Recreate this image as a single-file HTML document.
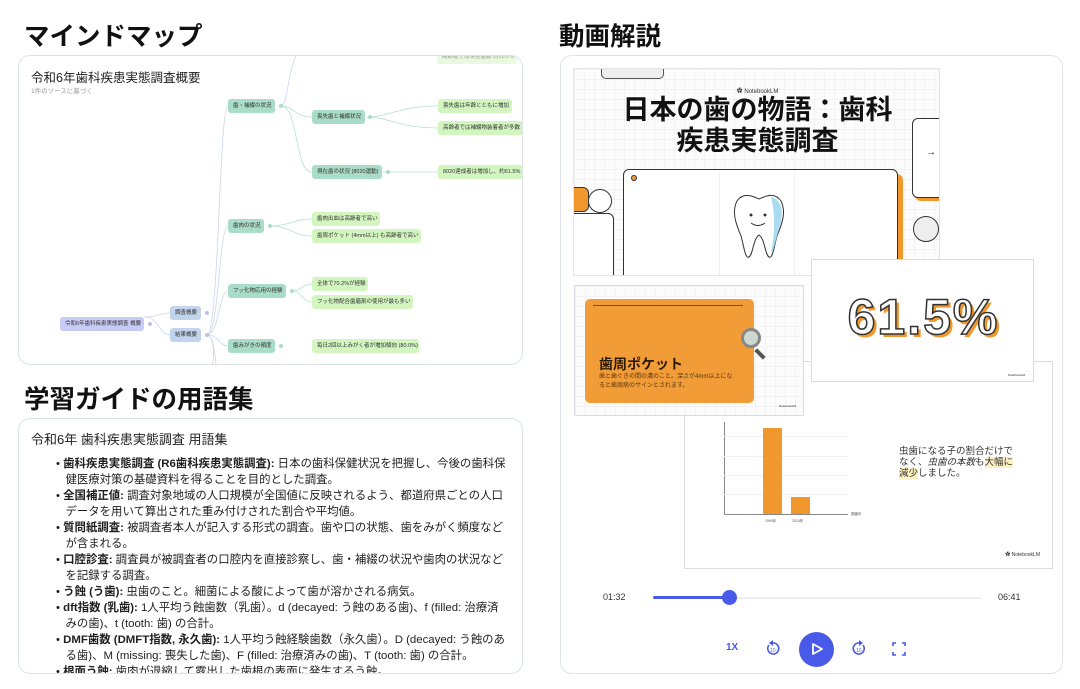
<!DOCTYPE html>
<html><head><meta charset="utf-8"><style>
*{margin:0;padding:0;box-sizing:border-box}
body{width:1080px;height:689px;background:#fff;position:relative;overflow:hidden;font-family:"Liberation Sans","Noto Sans CJK JP",sans-serif;color:#1f1f1f}
.a{position:absolute}
.h{font-size:25.5px;font-weight:bold;color:#111;white-space:nowrap}
.panel{position:absolute;border:1px solid #dde3ea;border-radius:12px;background:#fff;overflow:hidden}
.n{position:absolute;height:14px;border-radius:3px;font-size:5.5px;line-height:14px;padding-left:5px;white-space:nowrap;color:#333}
.b{background:#c2d5ec}.p{background:#c9cbf7}.t{background:#a9dcc9}.g{background:#d3f5c0}
.gl{font-size:11.4px;line-height:16px;white-space:nowrap;color:#1f1f1f}
.gl b{font-weight:bold}
.grid{background-color:#fcfcfc;background-image:linear-gradient(#f2f2f2 1px,transparent 1px),linear-gradient(90deg,#f2f2f2 1px,transparent 1px);background-size:10px 10px}
</style></head><body>

<div class="a h" style="left:24px;top:16px">マインドマップ</div>
<div class="a h" style="left:559px;top:16px">動画解説</div>
<div class="a h" style="left:24px;top:379px">学習ガイドの用語集</div>

<!-- mind map -->
<div class="panel" style="left:18px;top:55px;width:505px;height:310px">
<svg class="a" style="left:0;top:0" width="505" height="310" fill="none" stroke-width="0.8">
<g stroke="#c9d6ea">
<path d="M125 261 C140 261,140 257,151 257"/><path d="M125 261 C140 261,140 279,151 279"/>
<path d="M188 279 C200 279,200 50,209 50"/><path d="M188 279 C200 279,200 170,209 170"/>
<path d="M188 279 C200 279,200 235,209 235"/><path d="M188 279 C200 279,200 290,209 290"/>
<path d="M188 279 C196 279,196 310,198 310"/><path d="M188 279 C196 279,196 310,192 310"/>
<path d="M262 50 C270 50,268 0,285 -10"/>
</g>
<g stroke="#b5e3cc">
<path d="M262 50 C275 50,275 61,293 61"/><path d="M262 50 C280 50,275 116,293 116"/>
<path d="M348 61 C370 61,380 50,419 50"/><path d="M348 61 C370 61,380 72,419 72"/>
<path d="M364 116 L419 116"/>
<path d="M251 170 C270 170,275 163,293 163"/><path d="M251 170 C270 170,275 180,293 180"/>
<path d="M273 235 C283 235,283 228,293 228"/><path d="M273 235 C283 235,283 246,293 246"/>
</g>
<g fill="#b9c3ea" stroke="none"><circle cx="131" cy="268" r="2"/><circle cx="188" cy="257" r="2"/><circle cx="188" cy="279" r="2"/></g>
<g fill="#a9dcc9" stroke="none"><circle cx="262" cy="50" r="2"/><circle cx="351" cy="61" r="2"/><circle cx="369" cy="116" r="2"/><circle cx="251" cy="170" r="2"/><circle cx="273" cy="235" r="2"/><circle cx="262" cy="290" r="2"/></g>
</svg>
<div class="a" style="left:12px;top:11px;font-size:12.5px;color:#222;white-space:nowrap">令和6年歯科疾患実態調査概要</div>
<div class="a" style="left:12px;top:29px;font-size:6.5px;color:#999;white-space:nowrap">1件のソースに基づく</div>
<div class="n g" style="left:418px;top:-6px;width:80px;opacity:.5">高齢者では現在歯数 約28.2%</div>
<div class="n p" style="left:41px;top:261px;width:84px">令和6年歯科疾患実態調査 概要</div>
<div class="n b" style="left:151px;top:250px;width:31px">調査概要</div>
<div class="n b" style="left:151px;top:272px;width:31px">結果概要</div>
<div class="n t" style="left:209px;top:43px;width:47px">歯・補綴の状況</div>
<div class="n t" style="left:293px;top:54px;width:53px">喪失歯と補綴状況</div>
<div class="n t" style="left:293px;top:109px;width:70px">現在歯の状況 (8020運動)</div>
<div class="n t" style="left:209px;top:163px;width:36px">歯肉の状況</div>
<div class="n t" style="left:209px;top:228px;width:58px">フッ化物応用の経験</div>
<div class="n t" style="left:209px;top:283px;width:47px">歯みがきの頻度</div>
<div class="n g" style="left:419px;top:43px;width:74px">喪失歯は年齢とともに増加</div>
<div class="n g" style="left:419px;top:65px;width:86px">高齢者では補綴物装着者が多数</div>
<div class="n g" style="left:419px;top:109px;width:86px">8020達成者は増加し、約61.5%</div>
<div class="n g" style="left:293px;top:156px;width:68px">歯肉出血は高齢者で高い</div>
<div class="n g" style="left:293px;top:173px;width:109px">歯周ポケット (4mm以上) も高齢者で高い</div>
<div class="n g" style="left:293px;top:221px;width:56px">全体で70.2%が経験</div>
<div class="n g" style="left:293px;top:239px;width:101px">フッ化物配合歯磨剤の使用が最も多い</div>
<div class="n g" style="left:293px;top:283px;width:107px">毎日2回以上みがく者が増加傾向 (80.0%)</div>
</div>

<!-- glossary -->
<div class="panel" style="left:18px;top:418px;width:505px;height:256px">
<div class="a" style="left:12px;top:10px;font-size:13px;white-space:nowrap">令和6年 歯科疾患実態調査 用語集</div>
<div class="a gl" style="left:37px;top:37px">
<div>• <b>歯科疾患実態調査 (R6歯科疾患実態調査):</b> 日本の歯科保健状況を把握し、今後の歯科保<br>&nbsp;&nbsp;&nbsp;健医療対策の基礎資料を得ることを目的とした調査。</div>
<div>• <b>全国補正値:</b> 調査対象地域の人口規模が全国値に反映されるよう、都道府県ごとの人口<br>&nbsp;&nbsp;&nbsp;データを用いて算出された重み付けされた割合や平均値。</div>
<div>• <b>質問紙調査:</b> 被調査者本人が記入する形式の調査。歯や口の状態、歯をみがく頻度など<br>&nbsp;&nbsp;&nbsp;が含まれる。</div>
<div>• <b>口腔診査:</b> 調査員が被調査者の口腔内を直接診察し、歯・補綴の状況や歯肉の状況など<br>&nbsp;&nbsp;&nbsp;を記録する調査。</div>
<div>• <b>う蝕 (う歯):</b> 虫歯のこと。細菌による酸によって歯が溶かされる病気。</div>
<div>• <b>dft指数 (乳歯):</b> 1人平均う蝕歯数（乳歯）。d (decayed: う蝕のある歯)、f (filled: 治療済<br>&nbsp;&nbsp;&nbsp;みの歯)、t (tooth: 歯) の合計。</div>
<div>• <b>DMF歯数 (DMFT指数, 永久歯):</b> 1人平均う蝕経験歯数（永久歯）。D (decayed: う蝕のあ<br>&nbsp;&nbsp;&nbsp;る歯)、M (missing: 喪失した歯)、F (filled: 治療済みの歯)、T (tooth: 歯) の合計。</div>
<div>• <b>根面う蝕:</b> 歯肉が退縮して露出した歯根の表面に発生するう蝕。</div>
</div>
</div>

<!-- video -->
<div class="panel" style="left:560px;top:55px;width:503px;height:619px">
<!-- slide 1 -->
<div class="a grid" style="left:12px;top:12px;width:367px;height:208px;overflow:hidden;border:1px solid #e5e5e5">
 <div class="a" style="left:27px;top:-10px;width:63px;height:20px;border:1px solid #555;border-radius:5px;background:#eee"></div>
 <div class="a" style="left:0;top:17px;width:367px;text-align:center;font-size:6px;color:#333">✿ NotebookLM</div>
 <div class="a" style="left:0;top:26px;width:367px;text-align:center;font-size:27px;font-weight:bold;line-height:31px;color:#111">日本の歯の物語：歯科<br>疾患実態調査</div>
 <div class="a" style="left:338px;top:49px;width:40px;height:80px;border:1px solid #333;border-radius:6px;background:#fff;box-shadow:3px 3px 0 #f0982e"></div>
 <div class="a" style="left:352px;top:78px;font-size:10px">→</div>
 <div class="a" style="left:49px;top:100px;width:275px;height:120px;border:1.5px solid #333;border-radius:6px;background:#fff;box-shadow:5px 5px 0 #f0982e"></div>
 <div class="a" style="left:57px;top:106px;width:6px;height:6px;border-radius:50%;background:#f0982e;border:1px solid #333"></div>
 <div class="a" style="left:145px;top:103px;width:1px;height:115px;background:#eee"></div>
 <div class="a" style="left:220px;top:103px;width:1px;height:115px;background:#eee"></div>
 <div class="a" style="left:-5px;top:118px;width:20px;height:25px;border-radius:6px;background:#f0982e;border:1px solid #333"></div>
 <div class="a" style="left:14px;top:120px;width:24px;height:24px;border-radius:50%;background:#fff;border:1px solid #333"></div>
 <div class="a" style="left:-5px;top:144px;width:45px;height:80px;border-radius:6px;background:#fff;border:1px solid #333"></div>
 <div class="a" style="left:339px;top:147px;width:26px;height:26px;border-radius:50%;background:#eee;border:1px solid #333"></div>
 <svg class="a" style="left:155px;top:122px" width="60" height="70"><path d="M8 10 C15 0,25 6,30 8 C35 6,45 0,52 10 C58 22,52 35,48 45 C45 55,44 68,40 66 C36 64,36 48,30 44 C24 48,24 64,20 66 C16 68,15 55,12 45 C8 35,2 22,8 10Z" fill="#fff" stroke="#333" stroke-width="1"/><path d="M42 6 C52 8,56 20,50 38 C46 52,44 62,42 64 C44 50,48 30,42 6Z" fill="#a9dcf0"/><circle cx="22" cy="24" r="1.5" fill="#333"/><circle cx="36" cy="24" r="1.5" fill="#333"/><path d="M22 32 Q29 37 36 32" stroke="#333" fill="none"/></svg>
</div>
<!-- slide 4 chart -->
<div class="a" style="left:123px;top:305px;width:369px;height:208px;background:#fff;border:1px solid #d9dde3">
 <div class="a" style="left:39px;top:60px;width:1px;height:92px;background:#888"></div>
 <div class="a" style="left:39px;top:152px;width:124px;height:1px;background:#888"></div>
 <div class="a" style="left:39px;top:74px;width:124px;height:1px;background:#f0f0f0"></div>
 <div class="a" style="left:39px;top:94px;width:124px;height:1px;background:#f0f0f0"></div>
 <div class="a" style="left:39px;top:113px;width:124px;height:1px;background:#f0f0f0"></div>
 <div class="a" style="left:39px;top:132px;width:124px;height:1px;background:#f0f0f0"></div>
 <div class="a" style="left:78px;top:66px;width:19px;height:86px;background:#f0982e"></div>
 <div class="a" style="left:106px;top:135px;width:19px;height:17px;background:#f0982e"></div>
 <div class="a" style="left:80px;top:157px;font-size:3.5px;color:#555">1999年</div>
 <div class="a" style="left:107px;top:157px;font-size:3.5px;color:#555">2024年</div>
 <div class="a" style="left:166px;top:150px;font-size:3.5px;color:#555">調査年</div>
 <div class="a" style="left:214px;top:84px;font-size:9.5px;line-height:11px;color:#333;white-space:nowrap">虫歯になる子の割合だけで<br>なく、<i>虫歯の本数</i>も<span style="background:#fdf1c2">大幅に</span><br><span style="background:#fdf1c2">減少</span>しました。</div>
 <div class="a" style="right:12px;bottom:10px;font-size:5px;color:#333">✿ NotebookLM</div>
</div>
<!-- slide 3 (61.5%) -->
<div class="a" style="left:250px;top:203px;width:223px;height:123px;background:#fff;border:1px solid #d9dde3">
 <div class="a" style="left:0;top:28px;width:223px;text-align:center;font-size:50px;font-weight:bold;color:#fff;-webkit-text-stroke:1.5px #333;text-shadow:3px 3px 0 #f0982e;letter-spacing:2px">61.5%</div>
 <div class="a" style="right:8px;bottom:4px;font-size:3px">NotebookLM</div>
</div>
<!-- slide 2 -->
<div class="a grid" style="left:13px;top:229px;width:230px;height:131px;border:1px solid #d9dde3">
 <div class="a" style="left:10px;top:13px;width:169px;height:104px;background:#f29c38;border-radius:5px"></div>
 <div class="a" style="left:18px;top:19px;width:150px;height:1px;background:#7a4a10"></div>
 <div class="a" style="left:24px;top:68px;font-size:14px;font-weight:bold;color:#2a1a08;white-space:nowrap">歯周ポケット</div>
 <div class="a" style="left:24px;top:87px;font-size:6px;line-height:9px;color:#5a3610;white-space:nowrap">歯と歯ぐきの間の溝のこと。深さが4mm以上にな<br>ると歯周病のサインとされます。</div>
 <div class="a" style="left:166px;top:42px;width:20px;height:20px;border-radius:50%;border:3px solid #888;background:#cfd8d0"></div>
 <div class="a" style="left:183px;top:62px;width:4px;height:12px;background:#555;transform:rotate(-45deg)"></div>
 <div class="a" style="right:7px;bottom:7px;font-size:3px">NotebookLM</div>
</div>
<!-- controls -->
<div class="a" style="left:42px;top:536px;font-size:9px;color:#333">01:32</div>
<div class="a" style="left:437px;top:536px;font-size:9px;color:#333">06:41</div>
<div class="a" style="left:92px;top:541px;width:328px;height:2px;background:#eee"></div>
<div class="a" style="left:92px;top:540px;width:77px;height:3px;background:#4a5ae8;border-radius:2px"></div>
<div class="a" style="left:161px;top:534px;width:15px;height:15px;border-radius:50%;background:#4a5ae8"></div>
<div class="a" style="left:165px;top:586px;font-size:10px;font-weight:bold;color:#4a5ae8">1X</div>
<svg class="a" style="left:204px;top:584px" width="16" height="16"><path d="M4 5 A5.5 5.5 0 1 0 8 3" stroke="#4a5ae8" stroke-width="1.6" fill="none"/><path d="M8 0 L4 3 L8 6Z" fill="#4a5ae8"/><text x="5" y="12" font-size="5" fill="#4a5ae8" font-family="Liberation Sans">10</text></svg>
<div class="a" style="left:238px;top:576px;width:35px;height:35px;border-radius:50%;background:#4a5ae8"></div>
<svg class="a" style="left:249px;top:586px" width="14" height="14"><path d="M3 2 L12 7 L3 12Z" stroke="#fff" stroke-width="1.8" fill="none" stroke-linejoin="round"/></svg>
<svg class="a" style="left:290px;top:584px" width="16" height="16"><path d="M12 5 A5.5 5.5 0 1 1 8 3" stroke="#4a5ae8" stroke-width="1.6" fill="none"/><path d="M8 0 L12 3 L8 6Z" fill="#4a5ae8"/><text x="5" y="12" font-size="5" fill="#4a5ae8" font-family="Liberation Sans">10</text></svg>
<svg class="a" style="left:331px;top:586px" width="14" height="14" stroke="#4a5ae8" stroke-width="1.6" fill="none"><path d="M1 4V1H4M10 1H13V4M13 10V13H10M4 13H1V10"/></svg>
</div>
</body></html>
